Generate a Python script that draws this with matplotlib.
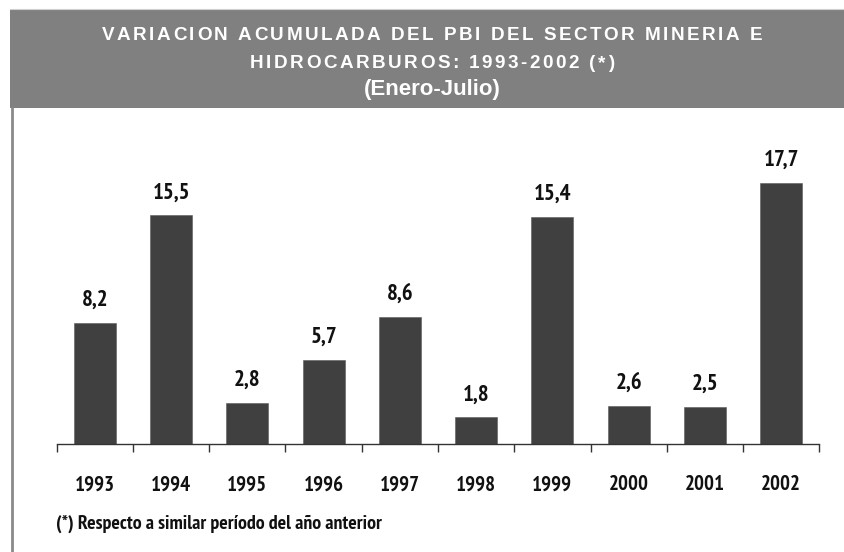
import matplotlib
matplotlib.use("Agg")
import matplotlib.pyplot as plt
from matplotlib import font_manager
from matplotlib.font_manager import FontProperties
from matplotlib.lines import Line2D
from matplotlib.patches import Rectangle

# ---------------- data ----------------
years = ["1993", "1994", "1995", "1996", "1997", "1998", "1999", "2000", "2001", "2002"]
values = [8.2, 15.5, 2.8, 5.7, 8.6, 1.8, 15.4, 2.6, 2.5, 17.7]
value_labels = ["8,2", "15,5", "2,8", "5,7", "8,6", "1,8", "15,4", "2,6", "2,5", "17,7"]
title_line1 = "VARIACION ACUMULADA DEL PBI DEL SECTOR MINERIA E"
title_line2 = "HIDROCARBUROS: 1993-2002 (*)"
title_line3 = "(Enero-Julio)"
footnote = "(*) Respecto a similar período del año anterior"

# ---------------- fonts ----------------
bold_faces = {}
for f in font_manager.fontManager.ttflist:
    try:
        w = int(f.weight)
    except (TypeError, ValueError):
        w = 700 if "bold" in str(f.weight).lower() else 400
    if f.style == "normal" and w >= 650:
        bold_faces.setdefault(f.name, True)
narrow = "Liberation Sans"
for cand in ["Liberation Sans Narrow", "PT Sans Narrow", "Roboto Condensed",
             "Asap Condensed", "Barlow Semi Condensed", "Barlow Condensed"]:
    if cand in bold_faces:
        narrow = cand
        break
NARROW = [narrow, "DejaVu Sans"]
WIDE = ["Liberation Sans", "DejaVu Sans"]

W, H, DPI = 845, 552, 100
fig = plt.figure(figsize=(W / DPI, H / DPI), dpi=DPI)
fig.patch.set_facecolor("white")


def fx(x):
    return x / W


def fy(y):
    return 1 - y / H


# header band
fig.patches.append(Rectangle((fx(10.5), fy(107.5)), 1 - fx(10.5), (107.5 - 9.5) / H,
                             transform=fig.transFigure, facecolor="#808080",
                             edgecolor="none", zorder=0))
fig.lines.append(Line2D([fx(10.5), 1], [fy(9.3), fy(9.3)], transform=fig.transFigure,
                        color="#d0d0d0", lw=0.8))
# left border line
fig.lines.append(Line2D([fx(12), fx(12)], [fy(107.5), 0], transform=fig.transFigure,
                        color="#8a8a8a", lw=2.0))

# ---------------- axes ----------------
ax_left, ax_right = 56.7, 819.3
base_y = 444.0
ppu = 14.75
ymax = 20.0
ax_top = base_y - ymax * ppu
ax = fig.add_axes([fx(ax_left), fy(base_y), (ax_right - ax_left) / W, (base_y - ax_top) / H])
ax.set_facecolor("none")
x = list(range(len(years)))
ax.bar(x, values, width=0.55, color="#404040", edgecolor="#5a5a5a", linewidth=0.4, zorder=2)
ax.set_xlim(-0.5, len(years) - 0.5)
ax.set_ylim(0, ymax)
for s in ["top", "right", "left"]:
    ax.spines[s].set_visible(False)
ax.spines["bottom"].set_color("#333333")
ax.spines["bottom"].set_linewidth(1.0)
ax.set_yticks([])
ax.set_xticks(x)
ax.set_xticklabels(years)
ax.set_xticks([i - 0.5 for i in range(len(years) + 1)], minor=True)
ax.tick_params(axis="x", which="major", length=0, pad=22.5)
ax.tick_params(axis="x", which="minor", length=6, width=1.0, color="#333333", direction="out")
for lab in ax.get_xticklabels():
    lab.set_fontfamily(NARROW)
    lab.set_fontweight("bold")
    lab.set_fontsize(15)
    lab.set_color("#111111")

for xi, v, lab in zip(x, values, value_labels):
    ax.annotate(lab, (xi, v), xytext=(0, 12.3), textcoords="offset points",
                ha="center", va="baseline", fontfamily=NARROW, fontweight="bold",
                fontsize=16.5, color="#111111", annotation_clip=False)

# ---------------- header text with letter spacing ----------------
renderer = fig.canvas.get_renderer()


def spaced_text(s, cx, baseline, size, track):
    prop = FontProperties(family=WIDE, weight="bold", size=size)
    widths = [renderer.get_text_width_height_descent(c, prop, ismath=False)[0] for c in s]
    total = sum(widths) + track * (len(s) - 1)
    xpos = cx - total / 2
    for c, w in zip(s, widths):
        fig.text(fx(xpos), fy(baseline), c, fontproperties=prop, color="white",
                 ha="left", va="baseline")
        xpos += w + track


spaced_text(title_line1, 432, 40.5, 13.6, 2.5)
spaced_text(title_line2, 432, 68, 13.6, 2.5)
fig.text(fx(432), fy(95), title_line3, fontfamily=WIDE, fontweight="bold", fontsize=16,
         color="white", ha="center", va="baseline")

# footnote
fig.text(fx(56), fy(529), footnote, fontfamily=NARROW, fontweight="bold", fontsize=14.3,
         color="#111111", ha="left", va="baseline")

fig.savefig("out.png", dpi=DPI, facecolor="white")
